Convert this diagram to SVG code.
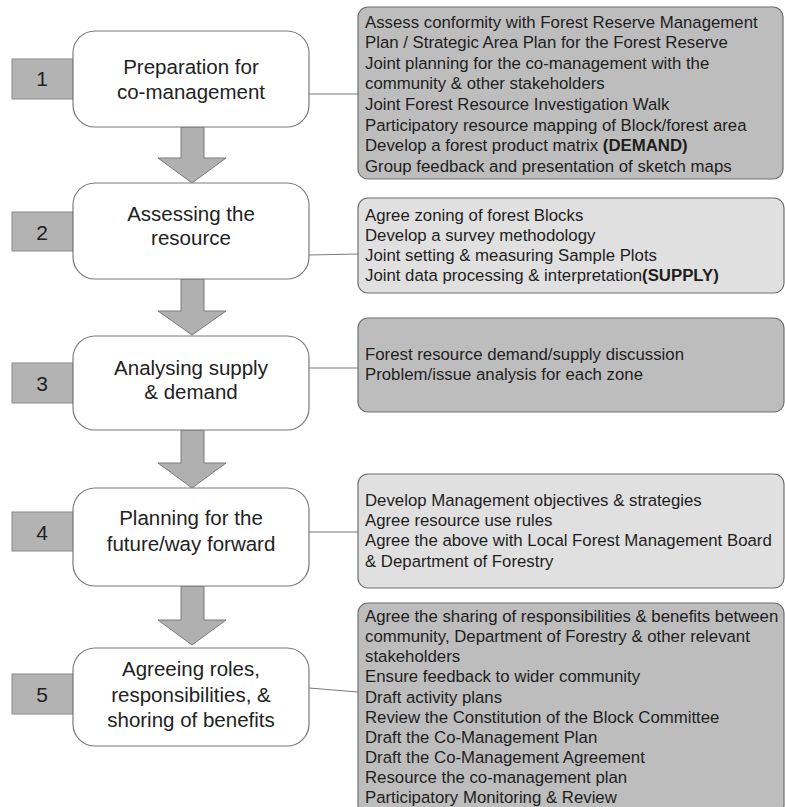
<svg xmlns="http://www.w3.org/2000/svg" width="785" height="807" viewBox="0 0 785 807">
  <style>
    .num { fill: #b3b3b3; stroke: #8a8a8a; stroke-width: 1; }
    .numtxt { font-family: "Liberation Sans", Arial, sans-serif; font-size: 21px; fill: #222; text-anchor: middle; }
    .step { fill: #ffffff; stroke: #7a7a7a; stroke-width: 1.2; }
    .steptxt { font-family: "Liberation Sans", Arial, sans-serif; font-size: 20.5px; fill: #222; text-anchor: middle; }
    .detail-dark { fill: #bdbdbd; stroke: #6f6f6f; stroke-width: 1.2; }
    .detail-light { fill: #e0e0e0; stroke: #6f6f6f; stroke-width: 1.2; }
    .dtxt { font-family: "Liberation Sans", Arial, sans-serif; font-size: 16.8px; fill: #1e1e1e; }
    .link { stroke: #7a7a7a; stroke-width: 1; fill: none; }
    .flow { fill: #b0b0b0; stroke: #7a7a7a; stroke-width: 1; }
  </style>

  <!-- connectors: down arrows between steps and ties to detail panels -->
  <g id="connectors">
    <polygon class="flow" points="181,127 204,127 204,158 226,158 192,183 158,158 181,158"/>
    <polygon class="flow" points="181,279 204,279 204,311 226,311 192,335 158,311 181,311"/>
    <polygon class="flow" points="181,430 204,430 204,463 226,463 192,488 158,463 181,463"/>
    <polygon class="flow" points="181,586 204,586 204,620 226,620 192,645 158,620 181,620"/>
    <line class="link" x1="309" y1="94" x2="358" y2="94"/>
    <line class="link" x1="309" y1="255" x2="358" y2="254"/>
    <line class="link" x1="309" y1="368" x2="358" y2="368"/>
    <line class="link" x1="309" y1="532" x2="358" y2="532"/>
    <line class="link" x1="309" y1="688" x2="358" y2="692"/>
  </g>

  <!-- step 1 -->
  <g id="step1">
    <rect class="num" x="12" y="59" width="61" height="40"/>
    <text class="numtxt" x="42" y="86">1</text>
    <rect class="step" x="73" y="31" width="236" height="96" rx="22" ry="22"/>
    <text class="steptxt" x="191" y="74">Preparation for</text>
    <text class="steptxt" x="191" y="99">co-management</text>
  </g>
  <g id="detail1">
    <rect class="detail-dark" x="358" y="7" width="425" height="172" rx="10" ry="10"/>
    <text class="dtxt" x="365" y="27.5">Assess conformity with Forest Reserve Management</text>
    <text class="dtxt" x="365" y="48">Plan / Strategic Area Plan for the Forest Reserve</text>
    <text class="dtxt" x="365" y="68.5">Joint planning for the co-management with the</text>
    <text class="dtxt" x="365" y="89">community &amp; other stakeholders</text>
    <text class="dtxt" x="365" y="110">Joint Forest Resource Investigation Walk</text>
    <text class="dtxt" x="365" y="130.5">Participatory resource mapping of Block/forest area</text>
    <text class="dtxt" x="365" y="151">Develop a forest product matrix<tspan font-weight="bold"> (DEMAND)</tspan></text>
    <text class="dtxt" x="365" y="172">Group feedback and presentation of sketch maps</text>
  </g>

  <!-- step 2 -->
  <g id="step2">
    <rect class="num" x="12" y="212" width="61" height="39"/>
    <text class="numtxt" x="42" y="240">2</text>
    <rect class="step" x="73" y="183" width="236" height="96" rx="22" ry="22"/>
    <text class="steptxt" x="191" y="221">Assessing the</text>
    <text class="steptxt" x="191" y="245">resource</text>
  </g>
  <g id="detail2">
    <rect class="detail-light" x="358" y="198" width="426" height="95" rx="10" ry="10"/>
    <text class="dtxt" x="365" y="221">Agree zoning of forest Blocks</text>
    <text class="dtxt" x="365" y="241">Develop a survey methodology</text>
    <text class="dtxt" x="365" y="261">Joint setting &amp; measuring Sample Plots</text>
    <text class="dtxt" x="365" y="281">Joint data processing &amp; interpretation<tspan font-weight="bold">(SUPPLY)</tspan></text>
  </g>

  <!-- step 3 -->
  <g id="step3">
    <rect class="num" x="12" y="363" width="61" height="40"/>
    <text class="numtxt" x="42" y="391">3</text>
    <rect class="step" x="73" y="336" width="236" height="94" rx="22" ry="22"/>
    <text class="steptxt" x="191" y="375">Analysing supply</text>
    <text class="steptxt" x="191" y="399">&amp; demand</text>
  </g>
  <g id="detail3">
    <rect class="detail-dark" x="358" y="318" width="426" height="94" rx="10" ry="10"/>
    <text class="dtxt" x="365" y="360">Forest resource demand/supply discussion</text>
    <text class="dtxt" x="365" y="380">Problem/issue analysis for each zone</text>
  </g>

  <!-- step 4 -->
  <g id="step4">
    <rect class="num" x="12" y="512" width="61" height="39"/>
    <text class="numtxt" x="42" y="540">4</text>
    <rect class="step" x="73" y="488" width="236" height="98" rx="22" ry="22"/>
    <text class="steptxt" x="191" y="525">Planning for the</text>
    <text class="steptxt" x="191" y="551">future/way forward</text>
  </g>
  <g id="detail4">
    <rect class="detail-light" x="358" y="474" width="426" height="114" rx="10" ry="10"/>
    <text class="dtxt" x="365" y="506">Develop Management objectives &amp; strategies</text>
    <text class="dtxt" x="365" y="526">Agree resource use rules</text>
    <text class="dtxt" x="365" y="546">Agree the above with Local Forest Management Board</text>
    <text class="dtxt" x="365" y="566.5">&amp; Department of Forestry</text>
  </g>

  <!-- step 5 -->
  <g id="step5">
    <rect class="num" x="12" y="674" width="61" height="40"/>
    <text class="numtxt" x="42" y="702">5</text>
    <rect class="step" x="73" y="648" width="236" height="98" rx="22" ry="22"/>
    <text class="steptxt" x="191" y="676">Agreeing roles,</text>
    <text class="steptxt" x="191" y="702">responsibilities, &amp;</text>
    <text class="steptxt" x="191" y="727">shoring of benefits</text>
  </g>
  <g id="detail5">
    <rect class="detail-dark" x="358" y="603" width="426" height="212" rx="10" ry="10"/>
    <text class="dtxt" x="365" y="622">Agree the sharing of responsibilities &amp; benefits between</text>
    <text class="dtxt" x="365" y="642">community, Department of Forestry &amp; other relevant</text>
    <text class="dtxt" x="365" y="662">stakeholders</text>
    <text class="dtxt" x="365" y="682">Ensure feedback to wider community</text>
    <text class="dtxt" x="365" y="702.5">Draft activity plans</text>
    <text class="dtxt" x="365" y="722.5">Review the Constitution of the Block Committee</text>
    <text class="dtxt" x="365" y="742.5">Draft the Co-Management Plan</text>
    <text class="dtxt" x="365" y="762.5">Draft the Co-Management Agreement</text>
    <text class="dtxt" x="365" y="782.5">Resource the co-management plan</text>
    <text class="dtxt" x="365" y="803">Participatory Monitoring &amp; Review</text>
  </g>
</svg>
